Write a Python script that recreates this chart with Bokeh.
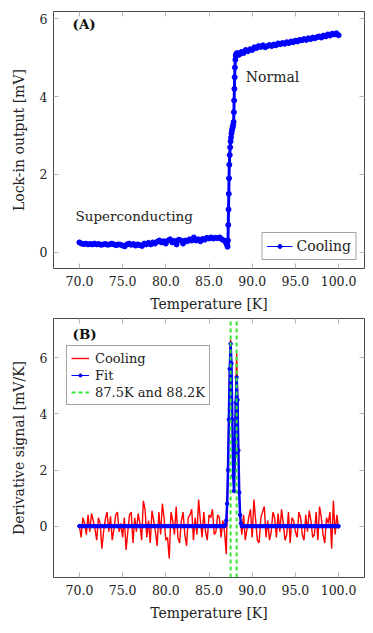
import numpy as np
from bokeh.plotting import figure
from bokeh.layouts import column
from bokeh.models import (Range1d, FixedTicker, NumeralTickFormatter, LinearAxis,
                          CustomJSTickFormatter, Legend, LegendItem, Label)
from bokeh.embed import file_html
from bokeh.resources import INLINE

FONT = "DejaVu Serif"
BLUE = "#0000ff"
RED = "#ff0000"
GREEN = "#33e633"
TXT = "#222222"

# ---------------- Panel A data: lock-in output vs temperature (cooling) ----
a_base_start, a_base_step = 70.0, 0.25
a_base_vals = [0.25, 0.22, 0.21, 0.22, 0.20, 0.21, 0.20, 0.22, 0.20, 0.21, 0.19, 0.20,
               0.21, 0.19, 0.20, 0.22, 0.20, 0.18, 0.20, 0.19, 0.17, 0.15, 0.20, 0.22,
               0.19, 0.21, 0.17, 0.20, 0.18, 0.16, 0.22, 0.20, 0.24, 0.20, 0.25, 0.22,
               0.27, 0.30, 0.25, 0.28, 0.22, 0.30, 0.33, 0.25, 0.29, 0.20, 0.32, 0.30,
               0.22, 0.30, 0.28, 0.33, 0.30, 0.38, 0.30, 0.33, 0.28, 0.34, 0.32, 0.37,
               0.35, 0.38, 0.35, 0.37, 0.36, 0.38, 0.33, 0.30, 0.22]
a_trans_t = [87.10, 87.15, 87.20, 87.23, 87.26, 87.29, 87.32, 87.35, 87.40, 87.45,
             87.50, 87.55, 87.60, 87.65, 87.70, 87.75, 87.80, 87.85, 87.88, 87.91,
             87.94, 87.97, 88.00, 88.05, 88.10, 88.15, 88.25, 88.35]
a_trans_vals = [0.20, 0.14, 0.30, 0.70, 1.10, 1.50, 1.90, 2.25, 2.50, 2.70,
                2.85, 2.95, 3.05, 3.12, 3.18, 3.22, 3.28, 3.35, 3.60, 3.90,
                4.20, 4.50, 4.75, 4.95, 5.05, 5.10, 5.12, 5.08]
a_norm_start, a_norm_step = 88.5, 0.25
a_norm_vals = [5.08, 5.15, 5.12, 5.20, 5.17, 5.22, 5.20, 5.27, 5.25, 5.30, 5.28, 5.32,
               5.27, 5.30, 5.33, 5.30, 5.34, 5.32, 5.37, 5.35, 5.38, 5.36, 5.40, 5.38,
               5.42, 5.40, 5.44, 5.42, 5.46, 5.45, 5.48, 5.46, 5.50, 5.48, 5.52, 5.50,
               5.53, 5.55, 5.52, 5.57, 5.55, 5.60, 5.57, 5.62, 5.60, 5.63, 5.58]

# ---------------- Panel B data: derivative signal -------------------------
b_left_start, b_step = 70.0, 0.2
b_left_vals = [0.0, -0.4, 0.3, 0.1, -0.3, 0.4, -0.2, 0.45, 0.2, -0.1, -0.5, 0.3, 0.1,
               -0.8, -0.2, 0.25, 0.5, -0.2, 0.35, -0.5, -0.1, 0.4, 0.5, -0.2, 0.1, -0.4,
               0.3, -0.85, -0.2, 0.4, 0.5, -0.6, 0.3, -0.2, 0.45, 0.1, -0.5, 0.9, 0.6,
               -0.4, 0.2, -0.6, 0.55, 0.2, -0.2, -0.7, 0.5, -0.3, 0.8, 0.3, -0.5, -0.4,
               -1.15, 0.5, 0.2, -0.3, 0.7, -0.4, -0.6, 0.2, 0.5, -0.3, -0.7, 0.3, 0.4,
               0.6, -0.5, 0.3, -0.3, 0.95, 0.2, -0.4, 0.5, -0.2, -0.5, 0.4, 0.3, 0.6,
               -0.3, -0.2, 0.4, 0.3, -0.4, 0.2, -0.2]
b_peak_t = [87.0, 87.1, 87.2, 87.3, 87.4, 87.5, 87.6, 87.7, 87.8, 87.9, 88.0, 88.1,
            88.2, 88.3, 88.4, 88.5, 88.6]
b_peak_vals = [-1.0, 0.5, 2.2, 4.0, 5.8, 6.65, 5.6, 3.6, 1.9, 1.4, 2.9, 4.9, 6.15,
               4.8, 2.8, 1.1, 0.3]
b_right_start = 88.8
b_right_vals = [-0.3, 0.4, -0.5, -0.1, 0.3, 0.6, -0.4, 0.95, 0.2, -0.5, -0.6, 0.3, 0.5,
                0.7, -0.4, 0.2, -0.5, -0.2, 0.5, 0.3, -0.4, 0.45, -0.2, 0.6, 0.1, -0.5,
                -0.3, 0.5, -0.6, 0.3, 0.2, -0.2, -0.4, 0.5, 0.3, -0.3, -0.5, 0.4, -0.2,
                0.55, 0.2, -0.4, -0.3, 0.5, -0.5, 0.7, 0.3, -0.3, -0.6, 0.3, 0.1, 0.5,
                -0.8, 0.9, -0.3, 0.4, -0.1]
fit_peak_t = [86.8, 86.9, 87.0, 87.1, 87.2, 87.3, 87.4, 87.5, 87.6, 87.7, 87.8, 87.9,
              88.0, 88.1, 88.2, 88.3, 88.4, 88.5, 88.6, 88.7, 88.8]
fit_peak_vals = [0.0, 0.05, 0.2, 0.8, 2.0, 3.8, 5.6, 6.5, 5.8, 3.8, 1.8, 1.25, 2.6, 4.4,
                 5.3, 4.5, 2.7, 1.2, 0.4, 0.1, 0.0]
fit_left_vals = [0.0] * len(b_left_vals)
fit_right_vals = [0.0] * len(b_right_vals)
marker_temps = [87.5, 88.2]

x_ticks = [70, 75, 80, 85, 90, 95, 100]
ya_ticks = [0, 2, 4, 6]
yb_ticks = [0, 2, 4, 6]
A_YMIN, A_YMAX = -0.42, 6.19
B_YMIN, B_YMAX = -1.83, 7.40
X_MIN, X_MAX = 67, 103


def grid(start, step, n):
    return [round(start + step * i, 3) for i in range(n)]


a_t = grid(a_base_start, a_base_step, len(a_base_vals)) + a_trans_t + \
    grid(a_norm_start, a_norm_step, len(a_norm_vals))
a_v = a_base_vals + a_trans_vals + a_norm_vals

b_left_t = grid(b_left_start, b_step, len(b_left_vals))
b_right_t = grid(b_right_start, b_step, len(b_right_vals))
b_t = b_left_t + b_peak_t + b_right_t
b_v = b_left_vals + b_peak_vals + b_right_vals
f_t = b_left_t[:-1] + fit_peak_t + b_right_t[1:]
f_v = fit_left_vals[:-1] + fit_peak_vals + fit_right_vals[1:]

EMPTY = CustomJSTickFormatter(code="return ''")


def style(p, yticks, xlabel, ylabel):
    p.outline_line_color = "#4a4a4a"
    p.outline_line_width = 1
    p.xgrid.visible = False
    p.ygrid.visible = False
    p.xaxis.ticker = FixedTicker(ticks=x_ticks)
    p.xaxis.formatter = NumeralTickFormatter(format="0.0")
    p.yaxis.ticker = FixedTicker(ticks=yticks)
    p.xaxis.axis_label = xlabel
    p.yaxis.axis_label = ylabel
    for ax in p.xaxis + p.yaxis:
        ax.axis_line_color = None
        ax.major_tick_in = 5
        ax.major_tick_out = 0
        ax.major_tick_line_color = "#b5b5b5"
        ax.minor_tick_line_color = None
        ax.major_label_text_font = FONT
        ax.major_label_text_font_size = "12.5px"
        ax.major_label_text_color = TXT
        ax.axis_label_text_font = FONT
        ax.axis_label_text_font_size = "14px"
        ax.axis_label_text_font_style = "normal"
        ax.axis_label_text_color = TXT
    p.xaxis.major_label_standoff = 7
    p.xaxis.axis_label_standoff = 7
    p.yaxis.major_label_standoff = 6
    p.yaxis.axis_label_standoff = 10
    for loc, tk in (("above", x_ticks), ("right", yticks)):
        ax = LinearAxis(ticker=FixedTicker(ticks=tk), formatter=EMPTY)
        ax.axis_line_color = None
        ax.major_tick_in = 5
        ax.major_tick_out = 0
        ax.major_tick_line_color = "#b5b5b5"
        ax.minor_tick_line_color = None
        ax.major_label_text_font_size = "1px"
        ax.major_label_standoff = 0
        p.add_layout(ax, loc)


# ---------------- Panel A ----------------
p1 = figure(width=365, height=314, x_range=Range1d(X_MIN, X_MAX),
            y_range=Range1d(A_YMIN, A_YMAX),
            output_backend="svg", toolbar_location=None,
            min_border_left=53, min_border_right=1, min_border_top=11, min_border_bottom=46)
style(p1, ya_ticks, "Temperature [K]", "Lock-in output [mV]")
la = p1.line(a_t, a_v, line_color=BLUE, line_width=3)
sa = p1.scatter(a_t, a_v, size=5, fill_color=BLUE, line_color=BLUE)
la_leg = p1.line(a_t[:1], a_v[:1], line_color=BLUE, line_width=1)
sa_leg = p1.scatter(a_t[:1], a_v[:1], size=4, fill_color=BLUE, line_color=BLUE)
leg1 = Legend(items=[LegendItem(label="Cooling", renderers=[la_leg, sa_leg])],
              location="bottom_right", margin=8, padding=4, glyph_width=26,
              glyph_height=10, label_height=18,
              label_standoff=4, label_text_font=FONT, label_text_font_size="14px",
              label_text_color=TXT,
              border_line_color="#4a4a4a", border_line_width=1, spacing=0)
p1.add_layout(leg1)
p1.add_layout(Label(x=69.2, y=5.86, text="(A)", text_font=FONT, text_font_style="bold",
                    text_font_size="13.5px", text_baseline="middle", text_color="#111111"))
p1.add_layout(Label(x=89.26, y=4.5, text="Normal", text_font=FONT,
                    text_font_size="14px", text_baseline="middle", text_color=TXT))
p1.add_layout(Label(x=69.54, y=0.92, text="Superconducting", text_font=FONT,
                    text_font_size="13.5px", text_baseline="middle", text_color=TXT))

# ---------------- Panel B ----------------
p2 = figure(width=365, height=319, x_range=Range1d(X_MIN, X_MAX),
            y_range=Range1d(B_YMIN, B_YMAX),
            output_backend="svg", toolbar_location=None,
            min_border_left=53, min_border_right=1, min_border_top=4, min_border_bottom=56)
style(p2, yb_ticks, "Temperature [K]", "Derivative signal [mV/K]")
rc = p2.line(b_t, b_v, line_color=RED, line_width=1.4)
fl = p2.line(f_t, f_v, line_color=BLUE, line_width=2.5)
fs = p2.scatter(f_t, f_v, size=3.5, fill_color=BLUE, line_color=BLUE)
fl_leg = p2.line(f_t[:1], f_v[:1], line_color=BLUE, line_width=1)
fs_leg = p2.scatter(f_t[:1], f_v[:1], size=3, fill_color=BLUE, line_color=BLUE)
gl = p2.segment(x0=marker_temps, x1=marker_temps,
                y0=[B_YMIN] * len(marker_temps), y1=[B_YMAX] * len(marker_temps),
                line_color=GREEN, line_dash="4 3", line_width=2)
leg2 = Legend(items=[LegendItem(label="Cooling", renderers=[rc]),
                     LegendItem(label="Fit", renderers=[fl_leg, fs_leg]),
                     LegendItem(label="87.5K and 88.2K", renderers=[gl])],
              location=(13, 172), padding=4, glyph_width=18, glyph_height=8,
              label_height=16, label_standoff=6, spacing=1,
              label_text_font=FONT, label_text_font_size="13px", label_text_color=TXT,
              border_line_color="#4a4a4a", border_line_width=1)
p2.add_layout(leg2)
p2.add_layout(Label(x=69.2, y=6.85, text="(B)", text_font=FONT, text_font_style="bold",
                    text_font_size="13.5px", text_baseline="middle", text_color="#111111"))

layout = column(p1, p2, spacing=0)
open("out.html", "w").write(file_html(layout, INLINE))
